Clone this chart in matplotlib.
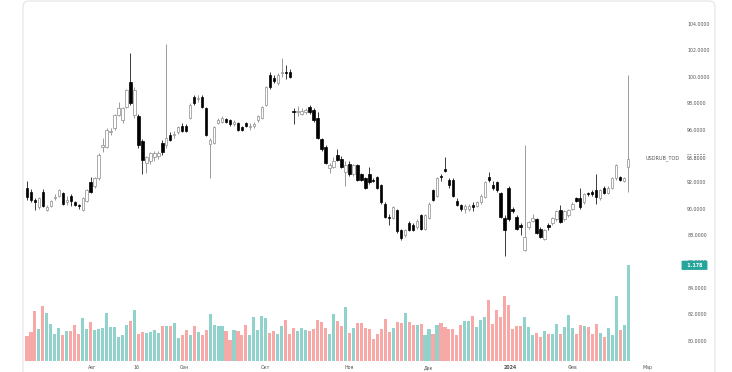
import numpy as np
import matplotlib.pyplot as plt
from matplotlib.patches import FancyBboxPatch
from matplotlib.transforms import IdentityTransform, blended_transform_factory

# daily USDRUB_TOD candles
open_ = [91.6, 91.3, 90.7, 90.1, 91.3, 89.9, 90.2, 90.8, 91.0, 91.2,
         90.5, 91.0, 90.5, 90.3, 89.9, 90.6, 92.0, 91.7, 92.3, 94.7,
         94.7, 95.8, 96.1, 97.1, 96.7, 97.7, 99.6, 97.1, 97.0, 95.1,
         93.5, 93.6, 93.9, 94.0, 95.0, 94.8, 95.6, 95.6, 95.8, 96.3,
         96.3, 96.9, 98.5, 98.3, 98.5, 97.6, 94.9, 95.0, 96.5, 96.6,
         96.8, 96.7, 96.4, 96.5, 96.2, 96.5, 96.2, 96.3, 96.7, 96.9,
         97.9, 100.1, 99.9, 99.5, 100.3, 100.4, 100.4, 97.4, 97.3, 97.2,
         97.3, 97.7, 97.5, 96.9, 95.3, 94.7, 93.1, 93.2, 94.1, 93.8,
         92.8, 93.4, 92.6, 93.3, 92.6, 92.3, 92.6, 92.2, 92.4, 91.8,
         90.4, 89.4, 89.3, 89.9, 88.4, 88.0, 88.9, 88.8, 88.6, 89.5,
         88.5, 89.3, 91.4, 91.0, 92.5, 93.0, 92.2, 92.2, 90.6, 90.3,
         90.0, 90.0, 90.3, 90.2, 90.5, 90.9, 92.4, 91.8, 92.0, 91.2,
         89.3, 91.6, 90.0, 89.4, 88.8, 86.9, 88.6, 89.1, 89.2, 88.5,
         87.7, 88.8, 88.9, 89.2, 89.9, 89.2, 89.5, 90.0, 90.8, 90.8,
         90.5, 91.2, 91.3, 91.4, 90.8, 91.6, 91.2, 91.6, 92.3, 92.4,
         92.1, 93.2]
high = [92.1, 91.5, 90.8, 90.9, 91.5, 90.3, 90.7, 91.1, 91.5, 91.3,
        91.0, 91.1, 90.6, 90.4, 90.9, 91.5, 92.4, 92.4, 94.2, 95.4,
        96.1, 96.1, 97.2, 98.1, 97.7, 99.1, 101.8, 99.2, 97.2, 95.3,
        94.0, 94.3, 94.4, 94.4, 95.2, 102.5, 95.8, 95.9, 96.3, 96.5,
        96.4, 98.0, 98.6, 98.6, 98.6, 97.7, 95.4, 96.3, 96.9, 97.0,
        96.9, 96.8, 96.7, 96.6, 96.3, 96.6, 96.5, 96.6, 97.1, 97.8,
        99.3, 100.4, 100.1, 100.3, 101.4, 100.9, 100.6, 97.6, 97.8, 97.6,
        97.6, 97.9, 97.6, 97.3, 95.4, 94.8, 93.5, 93.9, 94.5, 94.0,
        93.6, 93.6, 93.4, 93.4, 92.7, 92.4, 93.2, 92.3, 92.5, 91.9,
        90.5, 89.6, 90.2, 90.0, 88.5, 88.5, 89.1, 88.9, 89.2, 89.6,
        89.6, 90.5, 91.5, 92.4, 92.6, 93.9, 92.3, 92.3, 90.8, 90.4,
        90.4, 90.4, 90.5, 90.6, 91.1, 92.1, 92.8, 92.1, 92.1, 91.3,
        89.5, 91.7, 90.1, 89.5, 88.9, 94.8, 89.1, 89.6, 89.3, 88.6,
        88.5, 88.9, 89.4, 89.9, 90.3, 89.9, 90.0, 90.5, 90.9, 91.6,
        91.2, 91.3, 91.4, 92.6, 91.5, 91.7, 91.7, 92.4, 93.4, 92.5,
        92.4, 100.1]
low = [90.7, 90.5, 89.9, 90.0, 90.1, 89.8, 90.1, 90.7, 90.9, 90.3,
       90.3, 90.2, 90.2, 90.0, 89.8, 90.5, 91.2, 91.6, 92.2, 94.3,
       94.6, 95.6, 96.0, 97.0, 96.5, 97.6, 97.9, 96.9, 94.6, 92.6,
       92.7, 93.4, 93.6, 93.8, 94.1, 94.6, 95.1, 95.4, 95.7, 95.8,
       95.8, 96.8, 97.9, 98.1, 97.6, 95.5, 92.3, 94.9, 96.4, 96.5,
       96.5, 96.3, 96.3, 95.9, 95.9, 96.2, 96.0, 96.1, 96.6, 96.8,
       97.8, 99.1, 99.5, 99.4, 100.0, 99.8, 99.9, 96.4, 97.0, 97.1,
       97.2, 97.2, 96.6, 95.3, 94.4, 93.4, 92.7, 93.1, 93.6, 93.1,
       91.7, 92.5, 92.5, 92.1, 92.1, 91.5, 91.9, 92.0, 91.5, 90.4,
       89.3, 88.8, 89.2, 88.2, 87.6, 87.9, 88.3, 88.3, 88.5, 88.4,
       88.4, 89.2, 90.6, 90.9, 92.1, 92.8, 91.6, 90.9, 90.2, 89.8,
       89.7, 89.8, 89.8, 90.1, 90.4, 90.8, 92.0, 91.4, 91.3, 89.3,
       86.4, 89.1, 89.7, 88.4, 88.0, 86.8, 88.5, 89.0, 88.1, 87.8,
       87.6, 88.4, 88.8, 89.1, 88.9, 89.1, 89.4, 89.9, 90.5, 90.0,
       90.4, 91.0, 91.0, 90.4, 90.7, 91.1, 91.1, 91.5, 92.2, 92.1,
       92.0, 91.3]
close = [90.9, 90.7, 90.5, 90.8, 90.2, 90.1, 90.6, 90.9, 91.4, 90.4,
         90.7, 90.6, 90.3, 90.2, 90.8, 91.4, 91.3, 92.3, 94.1, 94.8,
         96.0, 95.9, 97.1, 97.6, 97.6, 99.0, 98.0, 99.0, 94.8, 93.7,
         93.9, 94.2, 94.2, 94.2, 94.3, 95.4, 95.2, 95.7, 96.2, 95.9,
         95.9, 97.9, 98.0, 98.4, 97.7, 95.6, 95.2, 96.2, 96.7, 96.9,
         96.6, 96.4, 96.6, 96.0, 96.0, 96.3, 96.3, 96.4, 97.0, 97.7,
         99.2, 99.2, 99.7, 100.1, 100.4, 100.3, 100.0, 97.3, 97.4, 97.4,
         97.5, 97.3, 96.7, 95.4, 94.5, 93.5, 93.3, 93.6, 93.7, 93.2,
         93.3, 92.6, 93.3, 92.2, 92.2, 91.6, 92.0, 92.1, 91.6, 90.5,
         89.4, 89.3, 90.1, 88.3, 87.8, 88.4, 88.4, 88.4, 89.1, 88.5,
         89.5, 90.4, 90.7, 92.3, 92.4, 92.9, 91.8, 91.0, 90.3, 90.0,
         90.2, 90.2, 90.1, 90.5, 91.0, 92.0, 92.2, 91.6, 91.4, 89.4,
         88.4, 89.2, 89.8, 88.5, 88.6, 87.9, 89.0, 89.3, 88.2, 87.9,
         88.4, 88.6, 89.3, 89.8, 89.0, 89.8, 89.9, 90.4, 90.6, 90.1,
         91.1, 91.1, 91.1, 90.9, 91.4, 91.2, 91.6, 92.3, 93.3, 92.2,
         92.3, 93.8]
# volume, same units as the 1.178 label
volume = [0.304, 0.357, 0.612, 0.394, 0.673, 0.595, 0.459, 0.336, 0.410, 0.316,
          0.369, 0.366, 0.447, 0.336, 0.533, 0.390, 0.480, 0.378, 0.390, 0.410,
          0.591, 0.419, 0.419, 0.295, 0.324, 0.447, 0.489, 0.624, 0.336, 0.357,
          0.345, 0.357, 0.385, 0.345, 0.431, 0.431, 0.431, 0.468, 0.283, 0.316,
          0.378, 0.316, 0.435, 0.357, 0.316, 0.378, 0.575, 0.439, 0.427, 0.427,
          0.366, 0.255, 0.385, 0.366, 0.316, 0.439, 0.316, 0.542, 0.378, 0.550,
          0.533, 0.345, 0.366, 0.329, 0.427, 0.508, 0.336, 0.406, 0.366, 0.406,
          0.385, 0.369, 0.390, 0.501, 0.480, 0.406, 0.336, 0.582, 0.489, 0.427,
          0.665, 0.348, 0.410, 0.468, 0.468, 0.410, 0.398, 0.267, 0.336, 0.398,
          0.521, 0.357, 0.410, 0.480, 0.468, 0.595, 0.480, 0.439, 0.439, 0.452,
          0.316, 0.394, 0.336, 0.439, 0.468, 0.419, 0.390, 0.390, 0.324, 0.447,
          0.489, 0.489, 0.554, 0.419, 0.501, 0.542, 0.755, 0.452, 0.632, 0.542,
          0.800, 0.686, 0.390, 0.427, 0.427, 0.542, 0.419, 0.316, 0.345, 0.295,
          0.366, 0.329, 0.336, 0.452, 0.336, 0.419, 0.563, 0.410, 0.329, 0.439,
          0.427, 0.419, 0.336, 0.459, 0.348, 0.295, 0.410, 0.316, 0.796, 0.378,
          0.439, 1.178]

month_pos = [16.5, 27.5, 39.5, 60, 81, 101, 121.5, 137, 156]
month_lbl = ['Авг', '16', 'Сен', 'Окт', 'Ноя', 'Дек', '2024', 'Фев', 'Мар']
price_ticks = list(range(80, 106, 2))
symbol = 'USDRUB_TOD'

o = np.array(open_)
h = np.array(high)
l = np.array(low)
c = np.array(close)
v = np.array(volume)
x = np.arange(len(c))
up = c >= o

W, H = 732, 372
fig = plt.figure(figsize=(W / 100, H / 100), dpi=100)
rect = [23 / W, 11 / H, 660 / W, 361 / H]

# volume underneath
axv = fig.add_axes(rect)
axv.bar(x, v, width=0.78, color=np.where(up, '#92d2cc', '#f7a9a7'), linewidth=0)
axv.set_xlim(-1.0, 164.8)
axv.set_ylim(0, 1.178 * 361 / 95.7)
axv.axis('off')

ax = fig.add_axes(rect)
ax.patch.set_alpha(0)
wick_col = np.where(up, '#8c8c8c', '#1a1a1a')
ax.vlines(x, l, h, colors=wick_col, linewidth=0.6, zorder=2)
body = np.maximum(np.abs(c - o), 0.08)
ax.bar(x, body, bottom=np.minimum(o, c), width=0.6,
       color=np.where(up, 'white', 'black'),
       edgecolor=np.where(up, '#8c8c8c', 'black'), linewidth=0.5, zorder=3)

ax.set_xlim(-1.0, 164.8)
ax.set_ylim(78.47, 105.82)
for s in ax.spines.values():
    s.set_visible(False)
ax.yaxis.tick_right()
ax.set_yticks(price_ticks)
ax.set_yticklabels([f'{t:.4f}' for t in price_ticks])
ax.set_xticks(month_pos)
ax.set_xticklabels(month_lbl)
ax.tick_params(length=0, labelsize=3.4, labelcolor='#555555')
ax.tick_params(axis='y', pad=3)
ax.tick_params(axis='x', pad=3)
ax.get_xticklabels()[6].set_fontweight('bold')

# last price and symbol
ax.annotate(f'{close[-1]:.4f}', xy=(1, close[-1]), xycoords=ax.get_yaxis_transform(),
            xytext=(3, 0), textcoords='offset points', ha='left', va='center',
            fontsize=3.4, color='#444444', zorder=5,
            bbox=dict(boxstyle='square,pad=0.25', fc='white', ec='none'))
ax.annotate(symbol, xy=(1, close[-1]), xycoords=ax.get_yaxis_transform(),
            xytext=(-2, 0), textcoords='offset points', ha='right', va='center',
            fontsize=3.6, color='#555555')

# last volume tag
vt = blended_transform_factory(ax.transAxes, axv.transData)
ax.annotate(f'  {volume[-1]:.3f}  ', xy=(1, volume[-1]), xycoords=vt,
            xytext=(0.5, 0), textcoords='offset points', ha='left', va='center',
            fontsize=3.4, color='white', fontweight='bold', zorder=5,
            bbox=dict(boxstyle='round,pad=0.45,rounding_size=0.2', fc='#26a69a', ec='none'))

# light rounded frame
fig.add_artist(FancyBboxPatch((23, -12), 692, 383, boxstyle='round,pad=0,rounding_size=6',
                              transform=IdentityTransform(), fc='none', ec='#e4e4e4', lw=0.8))

fig.savefig('out.png', dpi=100)
